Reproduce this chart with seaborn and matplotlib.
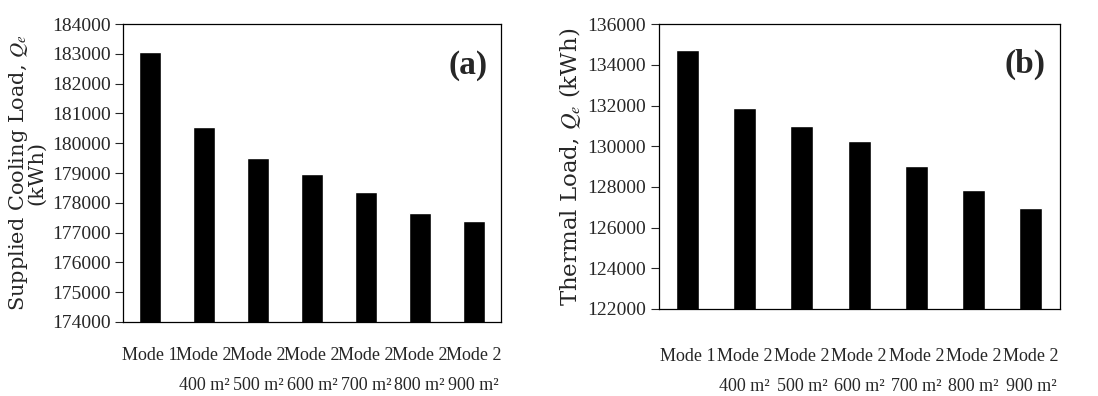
import matplotlib
matplotlib.use("Agg")
import matplotlib.pyplot as plt
import seaborn as sns
import pandas as pd

categories = ["Mode 1", "Mode 2\n400 m²", "Mode 2\n500 m²", "Mode 2\n600 m²",
              "Mode 2\n700 m²", "Mode 2\n800 m²", "Mode 2\n900 m²"]
cooling_load = [183070, 180530, 179510, 178960, 178360, 177660, 177380]
thermal_load = [134720, 131860, 130970, 130240, 129050, 127850, 126950]
cooling_ticks = list(range(174000, 184001, 1000))
thermal_ticks = list(range(122000, 136001, 2000))

sns.set_style("ticks")
plt.rcParams['font.family'] = ['Liberation Serif', 'DejaVu Serif']
plt.rcParams['mathtext.fontset'] = 'stix'

fig = plt.figure(figsize=(10.98, 3.96), dpi=100)
ax1 = fig.add_axes([0.112, 0.187, 0.344, 0.752])
ax2 = fig.add_axes([0.600, 0.220, 0.365, 0.719])

df1 = pd.DataFrame({"cat": categories, "val": cooling_load})
df2 = pd.DataFrame({"cat": categories, "val": thermal_load})

sns.barplot(data=df1, x="cat", y="val", color="black", width=0.4, ax=ax1,
            saturation=1)
sns.barplot(data=df2, x="cat", y="val", color="black", width=0.4, ax=ax2,
            saturation=1)

for ax, ticks, xpad in ((ax1, cooling_ticks, 18), (ax2, thermal_ticks, 28)):
    ax.set_ylim(ticks[0], ticks[-1])
    ax.set_yticks(ticks)
    ax.set_yticklabels([str(t) for t in ticks], fontsize=14)
    ax.set_xlim(-0.5, len(categories) - 0.5)
    ax.set_xlabel("")
    ax.tick_params(axis="x", length=0, pad=xpad, labelsize=13)
    ax.tick_params(axis="y", direction="out", length=6, width=0.8, pad=3)
    for s in ax.spines.values():
        s.set_visible(True)
        s.set_color("black")
        s.set_linewidth(0.9)
    for lbl in ax.get_xticklabels():
        lbl.set_linespacing(2.0)
        lbl.set_verticalalignment("top")

ax1.set_ylabel("Supplied Cooling Load, $\\boldsymbol{Q_e}$\n(kWh)", fontsize=15,
               labelpad=4, linespacing=0.8, family=['DejaVu Serif'])
ax2.set_ylabel("Thermal Load, $\\boldsymbol{Q_e}$ (kWh)", fontsize=16.5,
               labelpad=3, family=['DejaVu Serif'])

ax1.text(0.965, 0.86, "(a)", transform=ax1.transAxes, ha="right", va="center",
         fontsize=24, fontweight="bold")
ax2.text(0.965, 0.86, "(b)", transform=ax2.transAxes, ha="right", va="center",
         fontsize=24, fontweight="bold")

fig.savefig("out.png", dpi=100)
